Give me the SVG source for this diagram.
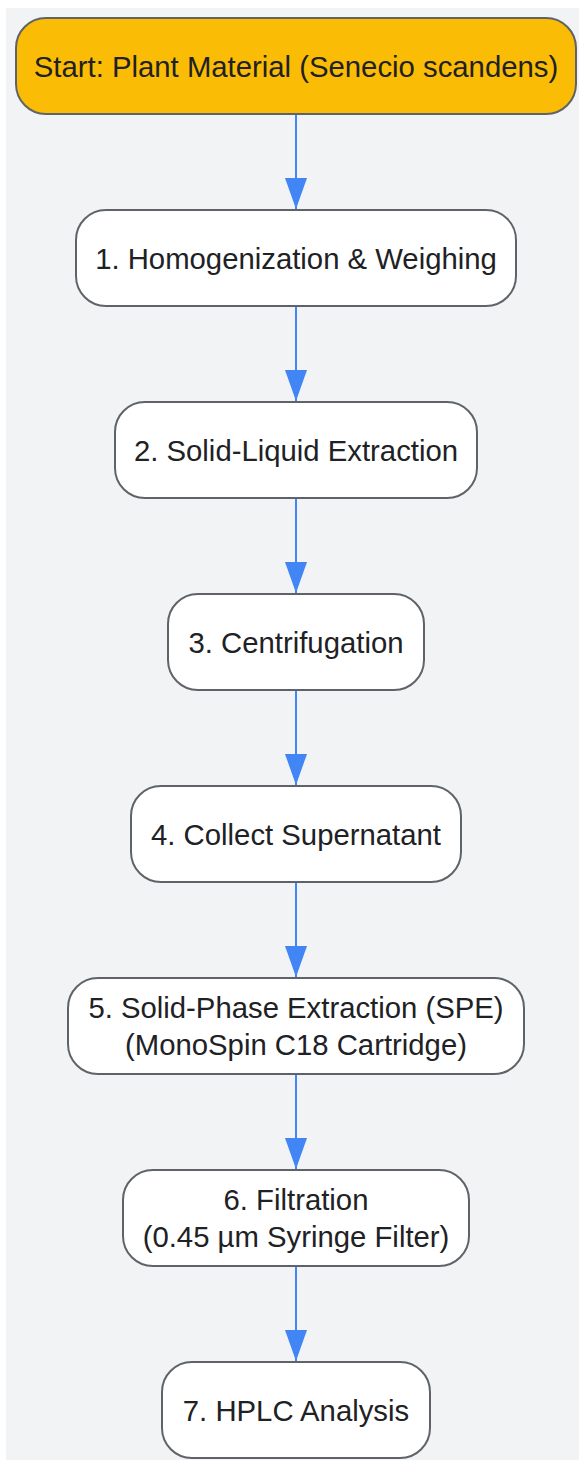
<svg xmlns="http://www.w3.org/2000/svg" width="579" height="1461" viewBox="0 0 579 1461">
<defs>
<style>
.node rect{fill:#ffffff;stroke:#5f6368;stroke-width:2}
#start rect{fill:#fbbc05}
.node text{font-family:"Liberation Sans",Arial,sans-serif;font-size:29.3px;fill:#202124;text-anchor:middle}
.edge{stroke:#4285f4;stroke-width:2;fill:none;marker-end:url(#arrow)}
</style>
<marker id="arrow" viewBox="0 0 31 22" refX="31" refY="11" markerWidth="31" markerHeight="22" markerUnits="userSpaceOnUse" orient="auto">
<path d="M0,0 L31,11 L0,22 Z" fill="#4285f4"/>
</marker>
</defs>
<rect x="6" y="8" width="573" height="1452" fill="#f1f3f4"/>
<g id="connectors">
<path class="edge" d="M296,114 V209"/>
<path class="edge" d="M296,306 V401"/>
<path class="edge" d="M296,498 V593"/>
<path class="edge" d="M296,690 V785"/>
<path class="edge" d="M296,882 V977"/>
<path class="edge" d="M296,1074 V1169"/>
<path class="edge" d="M296,1266 V1361"/>
</g>
<g id="start" class="node"><rect x="16" y="18" width="560" height="96" rx="30"/><text x="296" y="77">Start: Plant Material (Senecio scandens)</text></g>
<g id="n1" class="node"><rect x="76" y="210" width="440" height="96" rx="30"/><text x="296" y="269">1. Homogenization &amp; Weighing</text></g>
<g id="n2" class="node"><rect x="115" y="402" width="362" height="96" rx="30"/><text x="296" y="461">2. Solid-Liquid Extraction</text></g>
<g id="n3" class="node"><rect x="168" y="594" width="256" height="96" rx="30"/><text x="296" y="653">3. Centrifugation</text></g>
<g id="n4" class="node"><rect x="131" y="786" width="330" height="96" rx="30"/><text x="296" y="845">4. Collect Supernatant</text></g>
<g id="n5" class="node"><rect x="68" y="978" width="456" height="96" rx="30"/><text x="296" y="1018">5. Solid-Phase Extraction (SPE)</text><text x="296" y="1055">(MonoSpin C18 Cartridge)</text></g>
<g id="n6" class="node"><rect x="123" y="1170" width="346" height="96" rx="30"/><text x="296" y="1210">6. Filtration</text><text x="296" y="1247">(0.45 µm Syringe Filter)</text></g>
<g id="n7" class="node"><rect x="162" y="1362" width="268" height="96" rx="30"/><text x="296" y="1421">7. HPLC Analysis</text></g>
</svg>
